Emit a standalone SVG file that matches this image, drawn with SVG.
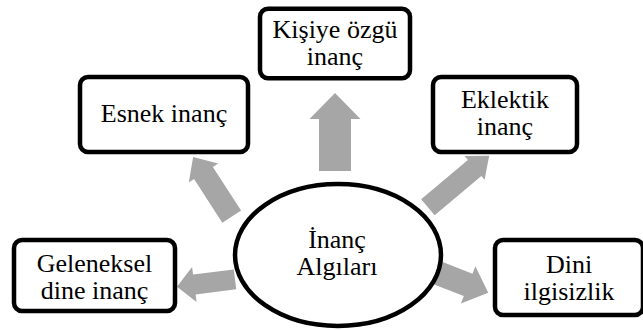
<svg xmlns="http://www.w3.org/2000/svg" width="643" height="330" viewBox="0 0 643 330">
<style>
.box{fill:#fff;stroke:#000;stroke-width:4.5}
text.t{font-family:'Liberation Serif','Times New Roman',serif !important;font-size:26px;fill:#000;text-anchor:middle}
.arr{fill:#A6A6A6;stroke:none}
</style>
<rect width="643" height="330" fill="#fff"/>
<g id="connectors">
<path class="arr" transform="translate(335,171) rotate(-90)" d="M0,-16 L52,-16 L52,-25.5 L78,0 L52,25.5 L52,16 L0,16 Z"/>
<path class="arr" transform="translate(231.7,216.7) rotate(-122.9)" d="M0,-11.2 L52,-11.2 L52,-17.5 L71,0 L52,17.5 L52,11.2 L0,11.2 Z"/>
<path class="arr" transform="translate(427.9,207.2) rotate(-40)" d="M0,-10.5 L61,-10.5 L61,-15.5 L80,0 L61,15.5 L61,10.5 L0,10.5 Z"/>
<path class="arr" transform="translate(235,279.3) rotate(172.7)" d="M0,-10 L41,-10 L41,-17.7 L58.5,0 L41,17.7 L41,10 L0,10 Z"/>
<path class="arr" transform="translate(438.3,273.3) rotate(21.2)" d="M0,-12 L32,-12 L32,-20 L53.6,0 L32,20 L32,12 L0,12 Z"/>
</g>
<g id="center">
<ellipse class="box" cx="338" cy="255" rx="103" ry="71"/>
<text class="t" x="337" y="248" style="font-family:'Liberation Serif',serif">İnanç</text>
<text class="t" x="337" y="275" style="font-family:'Liberation Serif',serif">Algıları</text>
</g>
<g id="esnek">
<rect class="box" x="80" y="77" width="168" height="75" rx="8"/>
<text class="t" x="164" y="122" style="font-family:'Liberation Serif',serif">Esnek inanç</text>
</g>
<g id="kisiye">
<rect class="box" x="260" y="8.7" width="150" height="69.5" rx="8"/>
<text class="t" x="335" y="38" style="font-family:'Liberation Serif',serif">Kişiye özgü</text>
<text class="t" x="335" y="65" style="font-family:'Liberation Serif',serif">inanç</text>
</g>
<g id="eklektik">
<rect class="box" x="433" y="77" width="144" height="75" rx="8"/>
<text class="t" x="505" y="108" style="font-family:'Liberation Serif',serif">Eklektik</text>
<text class="t" x="505" y="135" style="font-family:'Liberation Serif',serif">inanç</text>
</g>
<g id="geleneksel">
<rect class="box" x="14" y="240" width="161" height="71" rx="8"/>
<text class="t" x="94.5" y="272" style="font-family:'Liberation Serif',serif">Geleneksel</text>
<text class="t" x="94.5" y="298.5" style="font-family:'Liberation Serif',serif">dine inanç</text>
</g>
<g id="dini">
<rect class="box" x="495" y="240" width="148" height="75" rx="8"/>
<text class="t" x="569" y="273" style="font-family:'Liberation Serif',serif">Dini</text>
<text class="t" x="569" y="300" style="font-family:'Liberation Serif',serif">ilgisizlik</text>
</g>
</svg>
